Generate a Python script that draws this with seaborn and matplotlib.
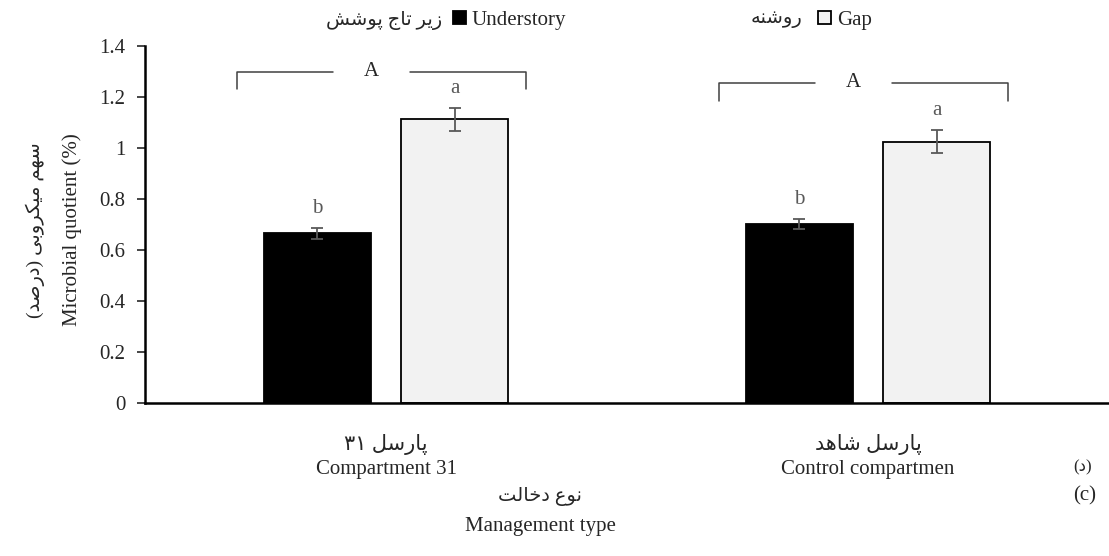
import re
import matplotlib
matplotlib.use("Agg")
import matplotlib.pyplot as plt
import matplotlib.ticker as mticker
import seaborn as sns
import pandas as pd

# values
groups = ["Compartment 31", "Control compartmen"]
groups_fa = ["پارسل ۳۱", "پارسل شاهد"]
understory = [0.665, 0.703]
understory_err = [0.02, 0.019]
gap = [1.112, 1.025]
gap_err = [0.046, 0.046]
letters_understory = ["b", "b"]
letters_gap = ["a", "a"]
group_letters = ["A", "A"]
bracket_y = [1.30, 1.255]

# --- minimal Persian shaping (matplotlib has no RTL / joining support) ---
FORMS = {
    "ب": "\uFE8F\uFE90\uFE91\uFE92", "ت": "\uFE95\uFE96\uFE97\uFE98",
    "ج": "\uFE9D\uFE9E\uFE9F\uFEA0", "خ": "\uFEA5\uFEA6\uFEA7\uFEA8",
    "س": "\uFEB1\uFEB2\uFEB3\uFEB4", "ش": "\uFEB5\uFEB6\uFEB7\uFEB8",
    "ص": "\uFEB9\uFEBA\uFEBB\uFEBC", "ع": "\uFEC9\uFECA\uFECB\uFECC",
    "ل": "\uFEDD\uFEDE\uFEDF\uFEE0", "م": "\uFEE1\uFEE2\uFEE3\uFEE4",
    "ن": "\uFEE5\uFEE6\uFEE7\uFEE8", "ه": "\uFEE9\uFEEA\uFEEB\uFEEC",
    "ی": "\uFBFC\uFBFD\uFBFE\uFBFF", "پ": "\uFB56\uFB57\uFB58\uFB59",
    "ک": "\uFB8E\uFB8F\uFB90\uFB91",
    "ا": "\uFE8D\uFE8E", "د": "\uFEA9\uFEAA", "ر": "\uFEAD\uFEAE",
    "ز": "\uFEAF\uFEB0", "و": "\uFEED\uFEEE",
}


def fa(text):
    out = []
    for i, ch in enumerate(text):
        if ch not in FORMS:
            out.append(ch)
            continue
        prev = text[i - 1] if i > 0 else ""
        nxt = text[i + 1] if i + 1 < len(text) else ""
        join_prev = prev in FORMS and len(FORMS[prev]) == 4
        join_next = len(FORMS[ch]) == 4 and nxt in FORMS
        idx = {(0, 0): 0, (1, 0): 1, (0, 1): 2, (1, 1): 3}[(join_prev, join_next)]
        out.append(FORMS[ch][idx])
    vis = "".join(out)[::-1]
    vis = re.sub("[۰-۹0-9]+", lambda m: m.group()[::-1], vis)
    return vis.translate(str.maketrans("()", ")("))


df = pd.DataFrame({
    "group": groups * 2,
    "value": understory + gap,
    "type": ["Understory"] * 2 + ["Gap"] * 2,
})

sns.set_style("white")
plt.rcParams["font.family"] = ["Liberation Serif", "DejaVu Sans"]

fig = plt.figure(figsize=(11.09, 5.56), dpi=100)
ax = fig.add_axes([145 / 1109, 1 - 403 / 556, 1 - 145 / 1109, (403 - 46) / 556])

sns.barplot(data=df, x="group", y="value", hue="type", order=groups,
            hue_order=["Understory", "Gap"], palette=["black", "#f2f2f2"],
            width=0.57, gap=0.22, edgecolor="black", linewidth=1.3,
            errorbar=None, ax=ax)

handles, labels = ax.get_legend_handles_labels()
ax.get_legend().remove()

err_color = "#595959"
for cont, vals, errs, lets in zip(ax.containers, [understory, gap],
                                  [understory_err, gap_err],
                                  [letters_understory, letters_gap]):
    xs = [b.get_x() + b.get_width() / 2 for b in cont]
    ax.errorbar(xs, vals, yerr=errs, fmt="none", ecolor=err_color,
                elinewidth=1.3, capsize=4.5, capthick=1.3)
    for x, v, e, l in zip(xs, vals, errs, lets):
        ax.text(x, v + e + 0.04, l, ha="center", va="bottom",
                fontsize=15, color=err_color)

# group brackets
for i, (yb, let) in enumerate(zip(bracket_y, group_letters)):
    x0, x1 = i - 0.31, i + 0.29
    kw = dict(color="#404040", lw=1.1)
    ax.plot([x0, x0, i - 0.11], [yb - 0.07, yb, yb], **kw)
    ax.plot([i + 0.05, x1, x1], [yb, yb, yb - 0.07], **kw)
    ax.text(i - 0.03, yb, let, ha="center", va="center", fontsize=15)

ax.set_xlim(-0.5, 1.5)
ax.set_ylim(0, 1.4)
ax.yaxis.set_major_locator(mticker.MultipleLocator(0.2))
ax.yaxis.set_major_formatter(mticker.FuncFormatter(lambda v, p: f"{v:g}"))
ax.set_xticks(range(len(groups)))
ax.set_xticklabels([f"{fa(p)}\n{e}" for p, e in zip(groups_fa, groups)],
                   fontsize=15, linespacing=1.4)
ax.tick_params(axis="x", length=0, pad=22)
ax.tick_params(axis="y", length=6, width=1.2, direction="out", left=True,
               labelsize=15, pad=8)
ax.set_xlabel("")
ax.set_ylabel("")
sns.despine(ax=ax)
for s in ["left", "bottom"]:
    ax.spines[s].set_color("black")
    ax.spines[s].set_linewidth(1.8)

# axis titles
fig.text(72 / 1109, 1 - 230 / 556, "Microbial quotient (%)", rotation=90,
         ha="center", va="center", fontsize=15)
fig.text(35 / 1109, 1 - 230 / 556, fa("سهم میکروبی (درصد)"), rotation=90,
         ha="center", va="center", fontsize=14)
fig.text(540 / 1109, 1 - 497 / 556, fa("نوع دخالت"), ha="center",
         va="center", fontsize=14)
fig.text(540 / 1109, 1 - 527 / 556, "Management type", ha="center",
         va="center", fontsize=15)
fig.text(1083 / 1109, 1 - 467 / 556, fa("(د)"), ha="center", va="center",
         fontsize=12)
fig.text(1085 / 1109, 1 - 496 / 556, "(c)", ha="center", va="center",
         fontsize=15)

# legend
fig.legend(handles, labels, ncol=2, loc="center left",
           bbox_to_anchor=(453 / 1109, 1 - 20 / 556), frameon=False,
           fontsize=15, handlelength=0.6, handleheight=0.6,
           handletextpad=0.3, columnspacing=12.1, borderpad=0,
           borderaxespad=0)
fig.text(442 / 1109, 1 - 20 / 556, fa("زیر تاج پوشش"), ha="right",
         va="center", fontsize=14)
fig.text(802 / 1109, 1 - 20 / 556, fa("روشنه"), ha="right",
         va="center", fontsize=14)

fig.savefig("out.png", dpi=100)
